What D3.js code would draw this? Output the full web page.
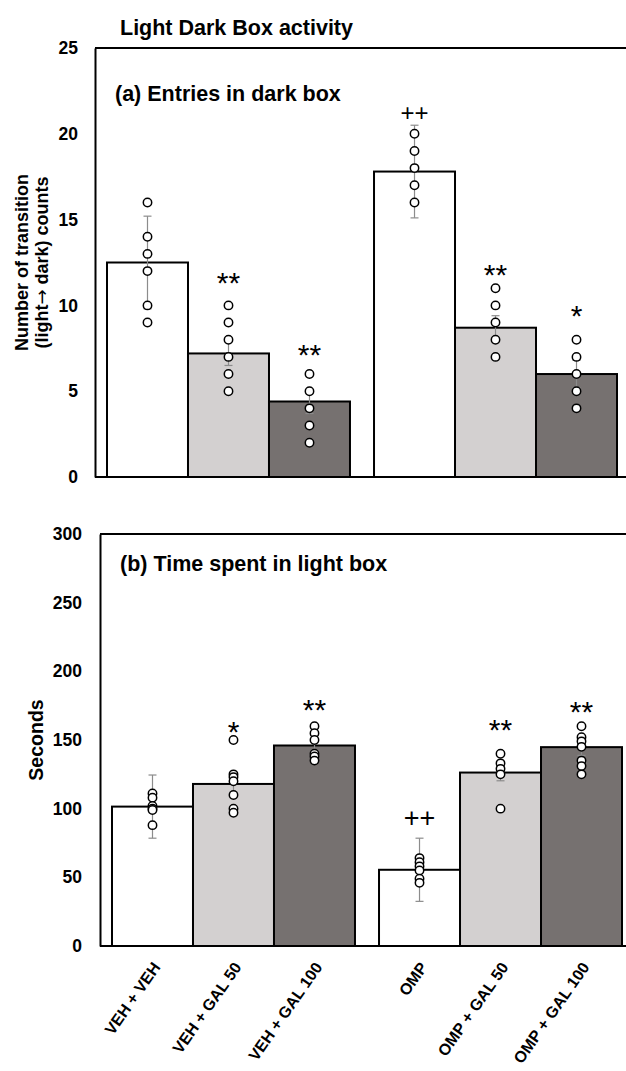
<!DOCTYPE html>
<head>
<meta charset="utf-8">
<title>Light Dark Box activity</title>
<script src="https://d3js.org/d3.v7.min.js"></script>
<style>
body { margin: 0; background: #fff; }
text { font-family: Arial, "Liberation Sans", sans-serif; }
</style>
</head>
<body>
<div id="container"></div>
<script>
//----------------------------DATA------------------------------//
const groups = ["VEH", "OMP"];
const doses = ["VEH", "GAL 50", "GAL 100"];
const labels = ["VEH + VEH", "VEH + GAL 50", "VEH + GAL 100", "OMP", "OMP + GAL 50", "OMP + GAL 100"];

// (a) entries in dark box
const entriesMean = [12.5, 7.2, 4.4, 17.8, 8.7, 6.0];
const entriesErr = [2.7, 0.7, 0.7, 2.7, 0.7, 0.8];
const entriesPoints = [
  [16, 14, 13, 12, 10, 9],
  [10, 9, 8, 7, 6, 5],
  [6, 5, 4, 3, 2],
  [20, 19, 18, 17, 16],
  [11, 10, 9, 8, 7],
  [8, 7, 6, 5, 4]
];
const entriesSig = ["", "**", "**", "++", "**", "*"];
const entriesSigAt = [0, 11.7, 7.5, 21.2, 12.2, 9.8];
const entriesTicks = [0, 5, 10, 15, 20, 25];

// (b) time spent in light box
const timeMean = [101.5, 118, 146, 55.5, 126.3, 144.8];
const timeErr = [23, 6, 5, 23, 6, 6];
const timePoints = [
  [111, 108, 102, 100, 99, 88],
  [150, 125, 123, 120, 110, 100, 97],
  [160, 155, 150, 140, 138, 135],
  [64, 61, 58, 55, 49, 46],
  [140, 133, 129, 125, 100],
  [160, 152, 149, 145, 135, 131, 125]
];
const timeSig = ["", "*", "**", "++", "**", "**"];
const timeSigAt = [0, 161, 177, 93.3, 162.5, 175.6];
const timeTicks = [0, 50, 100, 150, 200, 250, 300];

const fills = ["#ffffff", "#d3d0d0", "#767170"];

//----------------------------SVG-------------------------------//
const width = 626;
const height = 1071;
const svg = d3.select("div#container").append("svg")
    .attr("width", width)
    .attr("height", height)
    .style("background", "#fff");

svg.append("text")
    .attr("x", 120)
    .attr("y", 35)
    .style("font-size", "21.5px")
    .style("font-weight", "bold")
    .text("Light Dark Box activity");

//---------------------------PANEL------------------------------//
function panel(o) {
  const y = d3.scaleLinear().domain([0, o.max]).range([o.bottom, o.top]);
  const gx = d3.scaleBand().domain(groups)
      .range([o.left + 12, o.left + 522])
      .paddingInner(0.09);
  const dx = d3.scaleBand().domain(doses).range([0, gx.bandwidth()]);
  const bx = i => gx(groups[Math.floor(i / 3)]) + dx(doses[i % 3]);
  const cx = i => bx(i) + dx.bandwidth() / 2;

  const g = svg.append("g");

  // frame top line
  g.append("line")
      .attr("x1", o.left).attr("x2", width)
      .attr("y1", o.top).attr("y2", o.top)
      .attr("stroke", "#000").attr("stroke-width", 2);

  // bars
  g.selectAll("rect.bar")
      .data(o.means)
      .enter().append("rect")
      .attr("class", "bar")
      .attr("x", (d, i) => bx(i))
      .attr("y", d => y(d))
      .attr("width", dx.bandwidth())
      .attr("height", d => o.bottom - y(d))
      .attr("fill", (d, i) => fills[i % 3])
      .attr("stroke", "#000")
      .attr("stroke-width", 2);

  // error bars
  const err = g.selectAll("g.err")
      .data(o.means)
      .enter().append("g")
      .attr("class", "err")
      .attr("stroke", "#8c8c8c")
      .attr("stroke-width", 1.2);
  err.append("line")
      .attr("x1", (d, i) => cx(i)).attr("x2", (d, i) => cx(i))
      .attr("y1", (d, i) => y(d + o.errs[i]))
      .attr("y2", (d, i) => y(d - o.errs[i]));
  [1, -1].forEach(s => {
    err.append("line")
        .attr("x1", (d, i) => cx(i) - 4).attr("x2", (d, i) => cx(i) + 4)
        .attr("y1", (d, i) => y(d + s * o.errs[i]))
        .attr("y2", (d, i) => y(d + s * o.errs[i]));
  });

  // points
  o.points.forEach((pts, i) => {
    g.selectAll(null)
        .data(pts)
        .enter().append("circle")
        .attr("cx", cx(i))
        .attr("cy", d => y(d))
        .attr("r", 4.2)
        .attr("fill", "#fff")
        .attr("stroke", "#000")
        .attr("stroke-width", 1.5);
  });

  // significance marks (y value = centre of the mark)
  g.selectAll("text.sig")
      .data(o.sig)
      .enter().append("text")
      .attr("class", "sig")
      .attr("x", (d, i) => cx(i))
      .attr("y", (d, i) => y(o.sigAt[i]))
      .attr("dy", d => d.startsWith("+") ? "0.34em" : "0.57em")
      .attr("text-anchor", "middle")
      .style("font-size", d => d.startsWith("+") ? o.plusSize : "30px")
      .text(d => d);

  // axes
  const yAxis = g.append("g")
      .attr("transform", "translate(" + o.left + ",0)")
      .call(d3.axisLeft(y).tickValues(o.ticks).tickSize(0).tickPadding(o.pad));
  yAxis.select(".domain").attr("stroke-width", 2);
  yAxis.selectAll("text")
      .style("font-size", "17.5px")
      .style("font-weight", "bold")
      .attr("font-family", null);

  g.append("line")
      .attr("x1", o.left).attr("x2", width)
      .attr("y1", o.bottom).attr("y2", o.bottom)
      .attr("stroke", "#000").attr("stroke-width", 2);

  // panel title
  g.append("text")
      .attr("x", o.left + 20)
      .attr("y", o.titleY)
      .style("font-size", "21.5px")
      .style("font-weight", "bold")
      .text(o.title);

  // y label (arrow drawn with DejaVu, which has a full-size glyph)
  const yl = g.append("text")
      .attr("transform", "translate(" + o.labelX + "," + (o.top + o.bottom) / 2 + ") rotate(-90)")
      .attr("text-anchor", "middle")
      .style("font-size", o.labelSize)
      .style("font-weight", "bold");
  o.yLabel.forEach((t, k) => {
    const parts = t.split("\u2192");
    const line = yl.append("tspan").attr("x", 0).attr("dy", k === 0 ? 0 : "1.1em").text(parts[0]);
    if (parts.length > 1) {
      yl.append("tspan").style("font-family", "'DejaVu Sans'").style("font-weight", "normal").text("\u2192");
      yl.append("tspan").text(parts[1]);
    }
  });

  return { cx: cx, y: y };
}

panel({
  left: 95, top: 48, bottom: 477, max: 25, pad: 17,
  ticks: entriesTicks, means: entriesMean, errs: entriesErr,
  points: entriesPoints, sig: entriesSig, sigAt: entriesSigAt, plusSize: "24px",
  title: "(a) Entries in dark box", titleY: 100.5,
  yLabel: ["Number of transition", "(light\u2192 dark) counts"], labelX: 28, labelSize: "18px"
});

const pb = panel({
  left: 100, top: 534, bottom: 946, max: 300, pad: 18,
  ticks: timeTicks, means: timeMean, errs: timeErr,
  points: timePoints, sig: timeSig, sigAt: timeSigAt, plusSize: "27px",
  title: "(b) Time spent in light box", titleY: 571,
  yLabel: ["Seconds"], labelX: 43, labelSize: "19.5px"
});

// category labels
svg.selectAll("text.cat")
    .data(labels)
    .enter().append("text")
    .attr("class", "cat")
    .attr("transform", (d, i) => "translate(" + (pb.cx(i) + 4) + ",964) rotate(-55)")
    .attr("text-anchor", "end")
    .attr("dy", "0.35em")
    .style("font-size", "16px")
    .style("font-weight", "bold")
    .text(d => d);
</script>
</body>
